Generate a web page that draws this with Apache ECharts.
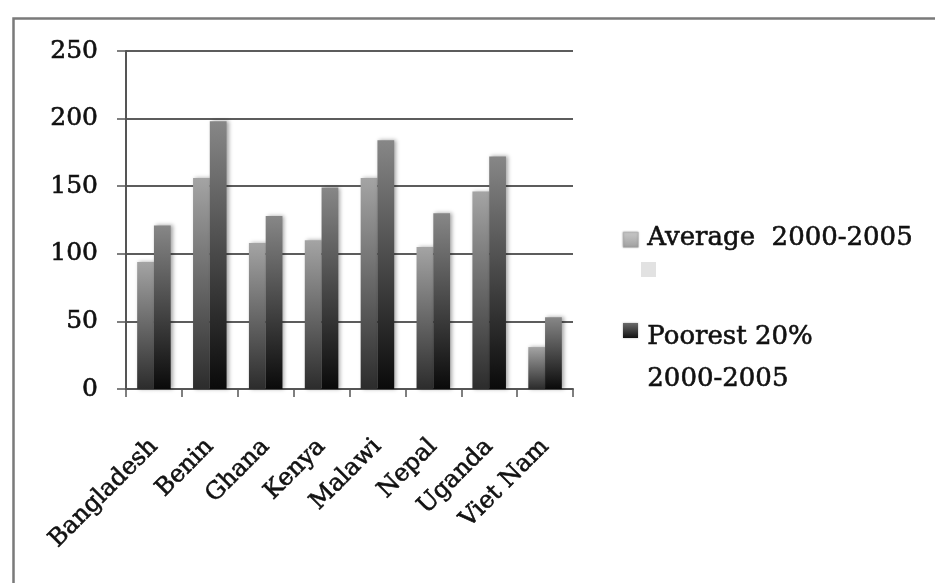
<!DOCTYPE html>
<html>
<head>
<meta charset="utf-8">
<script src="https://cdn.jsdelivr.net/npm/echarts@6/dist/echarts.min.js"></script>
<style>html,body{margin:0;padding:0;background:#fff;}#c{width:935px;height:583px;}</style>
</head>
<body>
<div id="c"></div>
<script>
var categories = ['Bangladesh', 'Benin', 'Ghana', 'Kenya', 'Malawi', 'Nepal', 'Uganda', 'Viet Nam'];
var averageValues = [94, 156, 108, 110, 156, 105, 146, 31];
var poorestValues = [121, 198, 128, 149, 184, 130, 172, 53];
var seriesNames = ['Average  2000-2005', 'Poorest 20%\n2000-2005'];
var yTicks = [0, 50, 100, 150, 200, 250];

var chart = echarts.init(document.getElementById('c'));
var FONT = 'DejaVu Serif';
function grad(top, bottom) {
  return new echarts.graphic.LinearGradient(0, 0, 0, 1, [
    { offset: 0, color: top }, { offset: 1, color: bottom }
  ]);
}
var shadow = { shadowBlur: 4, shadowColor: 'rgba(0,0,0,0.35)', shadowOffsetX: 2, shadowOffsetY: 0 };
var bold = { textBorderColor: '#111', textBorderWidth: 0.6 };

chart.setOption({
  backgroundColor: '#fff',
  animation: false,
  grid: { left: 126, right: 362, top: 51, bottom: 194 },
  xAxis: {
    type: 'category',
    data: categories,
    axisLine: { lineStyle: { color: '#555', width: 2 } },
    axisTick: { show: true, length: 8, lineStyle: { color: '#555', width: 1.5 } },
    axisLabel: Object.assign({ rotate: 45, fontFamily: FONT, fontSize: 24, color: '#111', margin: 54, interval: 0 }, bold)
  },
  yAxis: {
    type: 'value',
    min: yTicks[0],
    max: yTicks[yTicks.length - 1],
    interval: 50,
    axisLine: { show: true, lineStyle: { color: '#555', width: 2 } },
    axisTick: { show: true, length: 9, lineStyle: { color: '#555', width: 1.5 } },
    axisLabel: Object.assign({ fontFamily: FONT, fontSize: 25, color: '#111', margin: 28 }, bold),
    splitLine: { lineStyle: { color: '#262626', width: 1.6 } }
  },
  series: [
    {
      name: seriesNames[0], type: 'bar', data: averageValues,
      barWidth: '30%', barGap: '0%',
      itemStyle: Object.assign({ color: grad('#a4a4a4', '#2c2c2c') }, shadow)
    },
    {
      name: seriesNames[1], type: 'bar', data: poorestValues,
      barWidth: '30%', barGap: '0%',
      itemStyle: Object.assign({ color: grad('#878787', '#0a0a0a') }, shadow)
    }
  ],
  graphic: [
    { type: 'rect', left: 11, top: 16, shape: { width: 940, height: 600 }, style: { fill: 'none', stroke: '#7a7a7a', lineWidth: 2.5 }, silent: true, z: -1 },
    { type: 'rect', left: 623, top: 232, shape: { width: 15, height: 15 }, style: { fill: grad('#c8c8c8', '#a0a0a0'), stroke: '#aaa', lineWidth: 0.5, shadowBlur: 2, shadowColor: 'rgba(0,0,0,0.3)' } },
    { type: 'text', left: 647, top: 225, style: { text: seriesNames[0], font: '26px "DejaVu Serif"', fill: '#111', stroke: '#111', lineWidth: 0.6 } },
    { type: 'rect', left: 641, top: 262, shape: { width: 15, height: 15 }, style: { fill: '#e2e2e2' } },
    { type: 'rect', left: 623, top: 323, shape: { width: 15, height: 15 }, style: { fill: grad('#6a6a6a', '#111'), shadowBlur: 2, shadowColor: 'rgba(0,0,0,0.3)' } },
    { type: 'text', left: 647, top: 316, style: { text: seriesNames[1], font: '26px "DejaVu Serif"', fill: '#111', stroke: '#111', lineWidth: 0.6, lineHeight: 42 } }
  ]
});
</script>
</body>
</html>
